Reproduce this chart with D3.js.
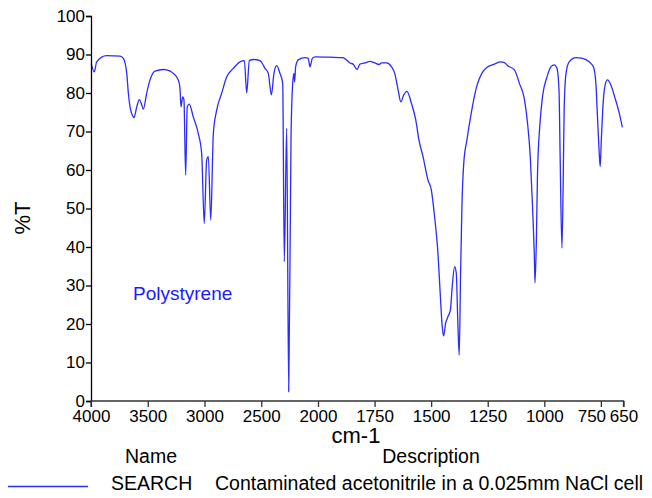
<!DOCTYPE html>
<html>
<head>
<meta charset="utf-8">
<script src="https://cdn.jsdelivr.net/npm/d3@7"></script>
<style>
  html, body { margin: 0; padding: 0; background: #fff; }
  svg { display: block; font-family: "Liberation Sans", Arial, sans-serif; }
</style>
</head>
<body>
<svg id="chart" width="652" height="498"></svg>
<script>
// Polystyrene IR spectrum: wavenumber (cm-1) and transmittance (%T)
const wavenumbers = [
  3998, 3971, 3950, 3862, 3744, 3715, 3685, 3671, 3656, 3627, 3621, 3597, 3574, 3557, 3539,
  3509, 3480, 3436, 3363, 3333, 3275, 3231, 3216, 3207, 3192, 3181, 3166, 3152, 3134, 3099,
  3055, 3025, 3002, 2981, 2966, 2945, 2922, 2892, 2848, 2804, 2746, 2687, 2649, 2628, 2605,
  2570, 2511, 2467, 2438, 2411, 2388, 2364, 2335, 2311, 2297, 2276, 2258, 2238, 2223, 2212,
  2206, 2197, 2174, 2115, 2086, 2071, 2050, 2026, 1947, 1890, 1874, 1859, 1845, 1827, 1815,
  1793, 1771, 1749, 1730, 1719, 1697, 1675, 1661, 1646, 1634, 1621, 1607, 1587, 1568, 1554,
  1536, 1514, 1499, 1485, 1470, 1460, 1451, 1445, 1436, 1426, 1415, 1407, 1396, 1389, 1382,
  1376, 1370, 1364, 1356, 1342, 1323, 1301, 1272, 1250, 1220, 1194, 1176, 1162, 1132, 1110,
  1088, 1074, 1062, 1052, 1044, 1041, 1035, 1030, 1019, 1008, 988, 971, 956, 944, 935,
  930, 922, 916, 912, 904, 890, 860, 831, 802, 783, 772, 765, 758, 753, 748,
  740, 731, 721, 706, 689, 670, 655
];
const transmittance = [
  87.7, 85.5, 88.1, 89.7, 89.6, 89.0, 85.1, 80.0, 76.4, 73.8, 73.6, 76.4, 78.3, 77.3, 75.8,
  80.0, 83.4, 85.7, 86.1, 86.0, 85.1, 83.4, 81.2, 76.4, 79.0, 78.2, 58.7, 76.4, 77.1, 73.8,
  69.5, 64.3, 46.1, 62.6, 63.5, 47.0, 69.5, 75.6, 80.0, 84.2, 86.4, 88.1, 88.4, 80.0, 88.4,
  88.7, 88.4, 86.4, 85.1, 79.5, 85.1, 87.1, 85.1, 82.5, 36.2, 70.8, 2.4, 67.8, 82.5, 85.1,
  82.9, 86.8, 88.6, 89.2, 89.0, 86.8, 89.0, 89.4, 89.3, 89.2, 88.6, 87.8, 87.5, 86.1, 87.5,
  87.8, 88.2, 87.8, 87.4, 87.8, 87.8, 86.8, 85.1, 80.8, 77.7, 79.5, 80.4, 77.3, 73.0, 67.8,
  63.5, 57.4, 54.8, 48.0, 38.4, 28.0, 19.3, 16.9, 20.2, 21.9, 23.6, 29.7, 34.9, 33.2, 20.2,
  11.9, 33.2, 50.5, 61.7, 67.8, 74.7, 81.2, 85.5, 86.8, 87.5, 88.1, 87.9, 87.1, 86.0, 82.5,
  78.4, 72.1, 63.5, 50.5, 37.5, 30.7, 41.8, 59.1, 72.1, 79.0, 84.2, 86.8, 87.3, 86.4, 80.8,
  63.5, 39.7, 59.1, 76.4, 85.1, 88.1, 89.2, 89.0, 88.1, 86.8, 82.5, 73.8, 65.2, 60.9, 67.8,
  77.3, 82.1, 83.4, 82.1, 79.0, 75.1, 71.1
];

// Axis ticks: the wavenumber scale doubles its resolution below 2000 cm-1
const xTicks = [4000, 3500, 3000, 2500, 2000, 1750, 1500, 1250, 1000, 750, 650];
const yTicks = [0, 10, 20, 30, 40, 50, 60, 70, 80, 90, 100];

const legendHeaders = ["Name", "Description"];
const legendName = "SEARCH";
const legendDescription = "Contaminated acetonitrile in a 0.025mm NaCl cell";
const sampleLabel = "Polystyrene";

const lineColor = "#2b2bff";

const svg = d3.select("#chart");

const x = d3.scaleLinear()
  .domain([4000, 2000, 650])
  .range([91, 318, 623.5]);

const y = d3.scaleLinear()
  .domain([0, 100])
  .range([401, 16]);

// Spectrum trace
const points = wavenumbers.map((w, i) => [w, transmittance[i]]);
const line = d3.line()
  .x(d => x(d[0]))
  .y(d => y(d[1]))
  .curve(d3.curveMonotoneX);

svg.append("path")
  .datum(points)
  .attr("fill", "none")
  .attr("stroke", lineColor)
  .attr("stroke-width", 1.3)
  .attr("stroke-linejoin", "round")
  .attr("d", line);

// Y axis
const yAxis = svg.append("g")
  .attr("transform", "translate(91,0)")
  .call(d3.axisLeft(y).tickValues(yTicks).tickSize(5).tickPadding(1).tickFormat(d3.format("d")));
yAxis.selectAll("path, line").attr("stroke", "#000").attr("stroke-width", 1.3);
yAxis.selectAll("text")
  .attr("font-size", 17)
  .attr("font-family", "Liberation Sans, Arial, sans-serif")
  .attr("fill", "#000");

// X axis
const xAxis = svg.append("g")
  .attr("transform", "translate(0,401)")
  .call(d3.axisBottom(x).tickValues(xTicks).tickSize(6).tickPadding(3).tickFormat(d3.format("d")));
xAxis.selectAll("path, line").attr("stroke", "#333").attr("stroke-width", 1.3);
xAxis.select(".domain").attr("d", `M${x(4000)},6V0H${x(650)}V6`);
xAxis.selectAll("text")
  .attr("font-size", 17)
  .attr("font-family", "Liberation Sans, Arial, sans-serif")
  .attr("fill", "#000");
// the 750 label is nudged left so it sits flush against the 650 label
xAxis.selectAll(".tick").filter(d => d === 750).select("text").attr("dx", -9.5);

// Axis titles
svg.append("text")
  .attr("transform", "translate(30,218) rotate(-90)")
  .attr("text-anchor", "middle")
  .attr("font-size", 22)
  .attr("fill", "#000")
  .text("%T");

svg.append("text")
  .attr("x", 356)
  .attr("y", 443)
  .attr("text-anchor", "middle")
  .attr("font-size", 22)
  .attr("fill", "#000")
  .text("cm-1");

// Sample label inside the plot
svg.append("text")
  .attr("x", 133)
  .attr("y", 300)
  .attr("font-size", 19)
  .attr("fill", "#1a1aff")
  .text(sampleLabel);

// Legend
svg.append("text")
  .attr("x", 151)
  .attr("y", 463)
  .attr("text-anchor", "middle")
  .attr("font-size", 19.5)
  .attr("fill", "#000")
  .text(legendHeaders[0]);

svg.append("text")
  .attr("x", 431)
  .attr("y", 463)
  .attr("text-anchor", "middle")
  .attr("font-size", 19.5)
  .attr("fill", "#000")
  .text(legendHeaders[1]);

svg.append("line")
  .attr("x1", 8).attr("x2", 88)
  .attr("y1", 486.5).attr("y2", 486.5)
  .attr("stroke", lineColor)
  .attr("stroke-width", 1.3);

svg.append("text")
  .attr("x", 111)
  .attr("y", 490)
  .attr("font-size", 19.5)
  .attr("fill", "#000")
  .text(legendName);

svg.append("text")
  .attr("x", 215)
  .attr("y", 490)
  .attr("font-size", 19.5)
  .attr("fill", "#000")
  .text(legendDescription);
</script>
</body>
</html>
